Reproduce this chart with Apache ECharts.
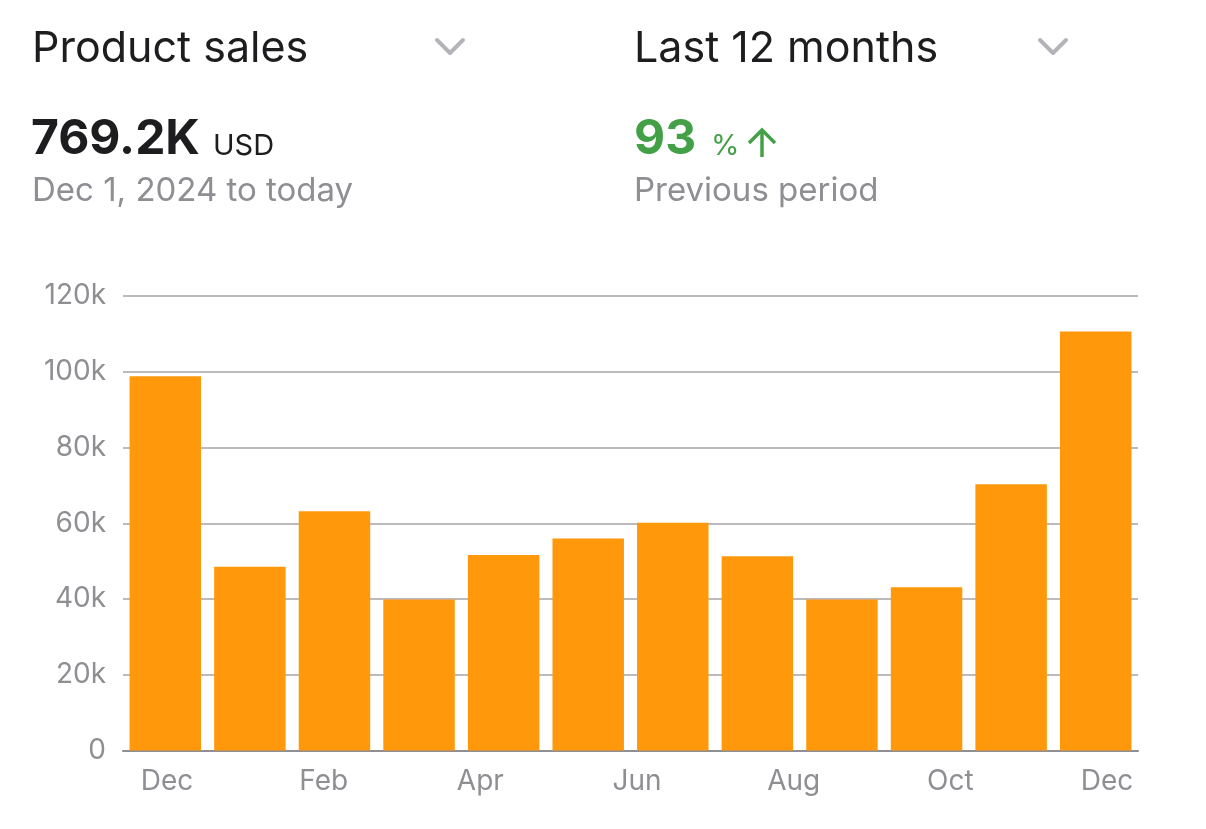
<!DOCTYPE html>
<html>
<head>
<meta charset="utf-8">
<script src="https://cdn.jsdelivr.net/npm/echarts@6/dist/echarts.min.js"></script>
<style>
html,body{margin:0;padding:0;background:#fff;}
#chart{width:1206px;height:829px;}
</style>
</head>
<body>
<div id="chart"></div>
<script>
// Data
const months = ['Dec','Jan','Feb','Mar','Apr','May','Jun','Jul','Aug','Sep','Oct','Nov'];
const sales = [98800, 48500, 63200, 39900, 51600, 56000, 60100, 51300, 39900, 43100, 70300, 110600];
const tickLabels = ['Dec','Feb','Apr','Jun','Aug','Oct','Dec'];
const yTicks = [0, 20000, 40000, 60000, 80000, 100000, 120000];

const FONT = 'Inter, Roboto, sans-serif';
const DARK = '#1d1d1f';
const GRAY = '#8e8e93';
const GREEN = '#43a047';
const ORANGE = '#ff980a';

const chart = echarts.init(document.getElementById('chart'), null, {renderer:'canvas'});

const option = {
  backgroundColor: '#fff',
  animation: false,
  grid: {left: 123, right: 68, top: 296, bottom: 78.5, containLabel: false},
  xAxis: [
    {
      type: 'category',
      data: months,
      boundaryGap: true,
      axisLine: {show: true, lineStyle: {color: '#8e8e93', width: 2}},
      axisTick: {show: false},
      axisLabel: {show: false},
      splitLine: {show: false}
    },
    {
      type: 'value',
      min: -0.281,
      max: 6.198,
      position: 'bottom',
      axisLine: {show: false},
      axisTick: {show: false},
      splitLine: {show: false},
      axisLabel: {
        show: true,
        margin: 17,
        color: GRAY,
        fontSize: 28,
        fontFamily: FONT,
        showMinLabel: false,
        showMaxLabel: false,
        formatter: function (v) {
          const r = Math.round(v);
          return (Math.abs(v - r) < 1e-6 && r >= 0 && r < tickLabels.length) ? tickLabels[r] : '';
        }
      }
    }
  ],
  yAxis: {
    type: 'value',
    min: yTicks[0],
    max: yTicks[yTicks.length - 1],
    interval: 20000,
    axisLine: {show: false},
    axisTick: {show: false},
    axisLabel: {
      margin: 17,
      color: GRAY,
      fontSize: 28,
      fontFamily: FONT,
      formatter: function (v) { return v === 0 ? '0' : (v / 1000) + 'k'; }
    },
    splitLine: {show: true, lineStyle: {color: '#a4a4a8', width: 1.5}}
  },
  series: [{
    type: 'bar',
    xAxisIndex: 0,
    data: sales,
    barCategoryGap: '15.5%',
    itemStyle: {color: ORANGE},
    silent: true
  }],
  graphic: [
    {type: 'text', left: 32, top: 28, style: {text: 'Product sales', font: '400 43px ' + FONT, fill: DARK}},
    {type: 'polyline', shape: {points: [[437, 40], [450, 53], [463, 40]]}, style: {stroke: '#b4b4b8', lineWidth: 4, lineCap: 'round', lineJoin: 'round', fill: null}},
    {type: 'text', left: 634, top: 28, style: {text: 'Last 12 months', font: '400 43px ' + FONT, fill: DARK}},
    {type: 'polyline', shape: {points: [[1040, 40], [1053, 53], [1066, 40]]}, style: {stroke: '#b4b4b8', lineWidth: 4, lineCap: 'round', lineJoin: 'round', fill: null}},
    {type: 'text', left: 31, top: 116, style: {text: '769.2K', font: '700 48px ' + FONT, fill: DARK}},
    {type: 'text', left: 213, top: 132, style: {text: 'USD', font: '400 29px ' + FONT, fill: DARK}},
    {type: 'text', left: 32, top: 175, style: {text: 'Dec 1, 2024 to today', font: '400 33px ' + FONT, fill: GRAY}},
    {type: 'text', left: 634, top: 116, style: {text: '93', font: '700 48px ' + FONT, fill: GREEN}},
    {type: 'text', left: 711, top: 132, style: {text: '%', font: '400 29px ' + FONT, fill: GREEN}},
    {type: 'polyline', shape: {points: [[762, 157], [762, 130]]}, style: {stroke: GREEN, lineWidth: 3.5, fill: null}},
    {type: 'polyline', shape: {points: [[749, 143], [762, 130], [775, 143]]}, style: {stroke: GREEN, lineWidth: 3.5, lineJoin: 'miter', fill: null}},
    {type: 'text', left: 634, top: 175, style: {text: 'Previous period', font: '400 33px ' + FONT, fill: GRAY}}
  ]
};

chart.setOption(option);
</script>
</body>
</html>
